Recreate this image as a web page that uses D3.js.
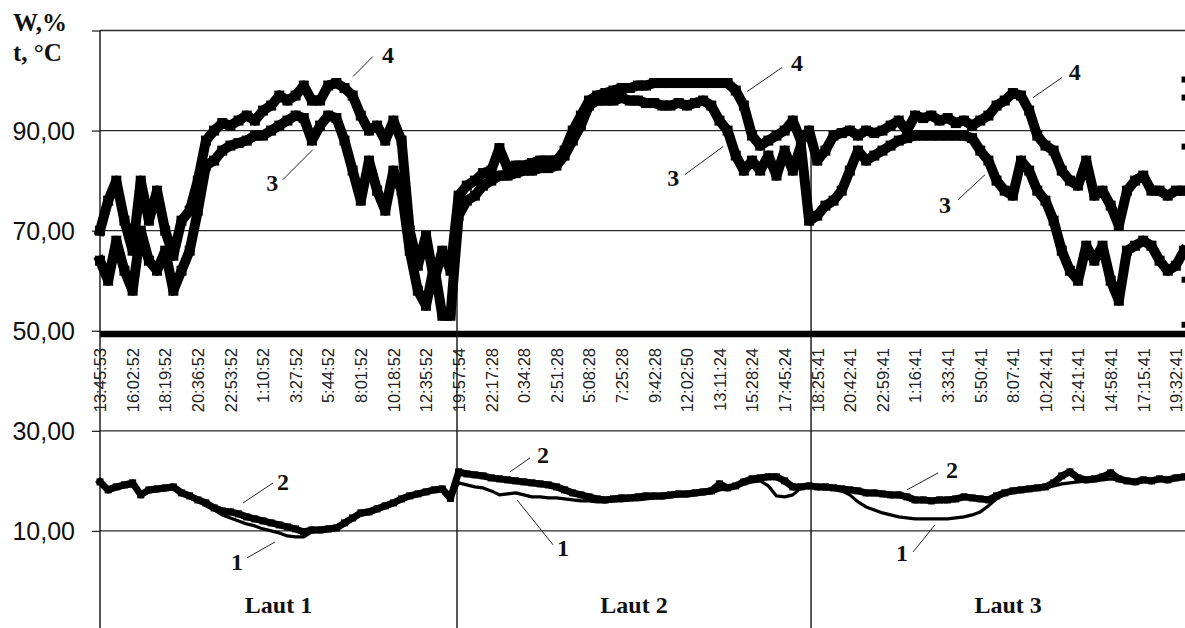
<!DOCTYPE html>
<html>
<head>
<meta charset="utf-8">
<script src="https://cdn.jsdelivr.net/npm/d3@7"></script>
<style>
  body { margin: 0; background: #fff; }
  svg { display: block; }
</style>
</head>
<body>
<svg id="chart" width="1185" height="628"></svg>
<script>
// Category tick labels (sampling times), one per index step
const timeLabels = [
  "13:45:53","16:02:52","18:19:52","20:36:52","22:53:52","1:10:52","3:27:52","5:44:52","8:01:52","10:18:52","12:35:52",
  "19:57:54","22:17:28","0:34:28","2:51:28","5:08:28","7:25:28","9:42:28","12:02:50","13:11:24","15:28:24","17:45:24",
  "18:25:41","20:42:41","22:59:41","1:16:41","3:33:41","5:50:41","8:07:41","10:24:41","12:41:41","14:58:41","17:15:41","19:32:41"
];

// Value axis ticks
const yTicks = [110, 90, 70, 50, 30, 10];

// Sampling step of the series along the category index
const sampleStep = 0.25;

// Series 4: W, % (upper humidity)
const series4 = [
  70,76,80,72,66,80,72,78,70,65,72,74,80,88,90,91.5,91,92,93,92,94,95,97,96,97,99,96,96,99,99.5,98.5,97,93,90,91,88,92,88,70,63,69,60,66,62,
  77,79,80,81.5,82,86.5,82.5,83,83,83.5,84,84,84,86,90,93,96,97,97.5,98,98.5,98.5,99,99,99.5,99.5,99.5,99.5,99.5,99.5,99.5,99.5,99.5,99.5,98,95,89,87,88,89,90,92,88,90,
  84,86,89,89.5,90,89,90,89.5,90,91,92,90,93,92.5,93,92,92.5,91.5,92,91,92,93,95,96,97.5,97,94,89,87,86,82,80,79,84,77,78,75,71,78,80,81,78,78,77,78,78
];

// Series 3: W, % (lower humidity)
const series3 = [
  64,60,68,62,58,70,64,62,66,58,62,66,74,83,84,86,87,87.5,88,89,89,90,91,92,93,92.5,88,91,93,92.5,88,82,76,84,78,74,82,78,66,58,55,63,53,53,
  73,76,77,79,80,81,81,81.5,82,82,82.5,82.5,83,85,88,91,95,96,96,96,96.5,96,96,95.5,95.5,95,95,95.5,95,95.5,96,95,92,90,85,82,84,82,85,81,86,82,87,72,
  73,75,76,78,82,86,84,85,86,87,88,88.5,89,89,89,89,89,89,89,88.5,86,84,80,78,77,84,82,78,76,72,66,62,60,67,64,67,60,56,66,67,68,67,64,62,63,66
];

// Series 2: t, °C (upper temperature)
const series2 = [
  19.8,18.2,18.8,19.2,19.6,17.2,18.2,18.4,18.6,18.8,17.6,17.0,16.2,15.6,14.6,14.0,13.8,13.4,12.8,12.4,12.0,11.6,11.2,10.8,10.4,9.8,10.2,10.2,10.4,10.6,11.6,12.6,13.6,13.8,14.4,15.0,15.6,16.4,17.0,17.4,17.8,18.2,18.4,16.5,
  21.8,21.4,21.2,21.0,20.6,20.4,20.2,20.0,19.8,19.6,19.4,19.2,18.8,18.2,17.6,17.2,16.8,16.4,16.2,16.4,16.6,16.6,16.8,17.0,17.0,17.0,17.2,17.4,17.4,17.6,17.8,18.0,19.4,18.6,19.0,19.8,20.4,20.6,20.8,20.8,20.0,18.8,18.8,19.0,
  18.8,18.8,18.6,18.4,18.2,18.0,17.6,17.6,17.4,17.2,17.2,16.8,16.2,16.2,16.0,16.2,16.2,16.4,16.8,16.6,16.4,16.2,17.0,17.6,18.0,18.2,18.4,18.6,18.8,19.6,21.0,21.8,20.6,20.2,20.4,20.8,21.6,20.4,20.0,19.8,20.2,20.0,20.4,20.2,20.6,20.8
];

// Series 1: t, °C (lower temperature)
const series1 = [
  19.4,18.0,18.4,18.8,19.0,17.2,17.8,18.0,18.2,18.4,17.4,16.8,16.0,15.0,14.2,13.2,12.6,12.0,11.4,11.0,10.4,10.0,9.6,9.0,8.8,8.8,9.8,10.0,10.2,10.4,11.4,12.4,13.2,13.6,14.2,14.8,15.4,16.0,16.8,17.2,17.6,18.0,18.0,16.2,
  19.6,19.2,18.8,18.6,18.0,17.2,17.4,17.6,17.2,16.8,16.8,16.6,16.6,16.4,16.2,16.0,16.0,15.8,15.8,16.0,16.0,16.2,16.2,16.4,16.6,16.6,16.8,17.0,17.0,17.2,17.4,17.6,18.2,18.4,18.8,19.4,19.8,20.0,19.0,17.0,16.8,17.2,18.6,18.8,
  18.6,18.4,18.4,18.0,17.2,15.8,14.8,14.2,13.6,13.2,12.8,12.6,12.4,12.4,12.4,12.4,12.4,12.6,12.8,13.2,13.8,15.0,16.4,17.4,17.8,18.0,18.2,18.4,18.6,19.0,19.4,19.6,19.8,20.0,20.0,20.2,20.4,20.2,20.0,19.8,20.0,20.0,20.2,20.2,20.4,20.6
];

// Stray points at the right edge of the plot
const edgePointIndex = 33.25;
const edgePoints = [100.2, 96.6, 86.8, 60.2, 51.2];

// Groups of the category axis (run names and index ranges)
const groupNames = ["Laut 1", "Laut 2", "Laut 3"];
const groupStarts = [0, 10.95, 21.81];
const groupEnds = [10.95, 21.81, 33.9];

// Dividers between the runs: index and the value where each starts
const dividerIndex = [10.95, 21.81];
const dividerTop = [77, 87];

// Curve numbers with their leader lines (index / value coordinates)
const curveNotes = [
  { text: "4", tx: 8.83,  tv: 105.2, x1: 7.76,  v1: 100.8, x2: 8.37,  v2: 104.8 },
  { text: "3", tx: 5.28,  tv: 79.6,  x1: 5.61,  v1: 80.2,  x2: 6.53,  v2: 86.2 },
  { text: "2", tx: 5.61,  tv: 19.8,  x1: 4.39,  v1: 15.6,  x2: 5.31,  v2: 19.6 },
  { text: "1", tx: 4.20,  tv: 3.8,   x1: 4.51,  v1: 4.6,   x2: 5.37,  v2: 7.8 },
  { text: "4", tx: 21.38, tv: 103.6, x1: 19.85, v1: 97.8,  x2: 20.92, v2: 102.6 },
  { text: "3", tx: 17.58, tv: 80.6,  x1: 17.94, v1: 81.2,  x2: 19.11, v2: 86.8 },
  { text: "2", tx: 13.59, tv: 25.2,  x1: 12.58, v1: 21.8,  x2: 13.19, v2: 24.6 },
  { text: "1", tx: 14.20, tv: 6.6,   x1: 12.79, v1: 16.2,  x2: 13.90, v2: 7.2 },
  { text: "4", tx: 29.90, tv: 101.8, x1: 28.62, v1: 96.6,  x2: 29.51, v2: 100.6 },
  { text: "3", tx: 25.92, tv: 75.2,  x1: 26.32, v1: 76.2,  x2: 27.15, v2: 81.2 },
  { text: "2", tx: 26.13, tv: 22.2,  x1: 24.75, v1: 18.2,  x2: 25.71, v2: 21.6 },
  { text: "1", tx: 24.60, tv: 5.6,   x1: 24.94, v1: 5.8,   x2: 25.61, v2: 11.2 }
];

const W = 1185, H = 628;
const svg = d3.select("#chart");
const sans = "'Liberation Sans', Arial, sans-serif";
const serif = "'Liberation Serif', 'Times New Roman', serif";

const x = d3.scaleLinear().domain([0, 33.28]).range([100, 1185]);
const y = d3.scaleLinear().domain([-9.4, 110]).range([628, 30.5]);

// Horizontal grid lines (50 is drawn as a heavy band below)
svg.append("g")
  .selectAll("line")
  .data(yTicks.filter(v => v !== 50))
  .join("line")
  .attr("x1", x(0)).attr("x2", W)
  .attr("y1", d => y(d)).attr("y2", d => y(d))
  .attr("stroke", "#2a2a2a").attr("stroke-width", 1.3);

// Heavy band at 50
svg.append("rect")
  .attr("x", x(0)).attr("width", W - x(0))
  .attr("y", y(50)).attr("height", 6.5)
  .attr("fill", "#000");

// Value axis
const yAxis = d3.axisLeft(y)
  .tickValues(yTicks)
  .tickSize(8)
  .tickPadding(17)
  .tickFormat(d => d === 110 ? "" : d.toFixed(2).replace(".", ","));
const gy = svg.append("g").attr("transform", `translate(${x(0)},0)`).call(yAxis);
gy.select(".domain").remove();
gy.selectAll(".tick line").attr("stroke", "#2a2a2a").attr("stroke-width", 1.3);
gy.selectAll(".tick text")
  .attr("font-family", sans).attr("font-size", 25).attr("fill", "#111")
  .attr("dy", "0.36em");
svg.append("line")
  .attr("x1", x(0)).attr("x2", x(0))
  .attr("y1", y(110)).attr("y2", H)
  .attr("stroke", "#111").attr("stroke-width", 1.4);

// Axis title
const title = svg.append("text")
  .attr("font-family", serif).attr("font-weight", "bold")
  .attr("font-size", 25).attr("fill", "#111");
title.append("tspan").attr("x", 13).attr("y", 31).text("W,%");
title.append("tspan").attr("x", 13).attr("y", 61).text("t, °C");

// Time labels, rotated, just under the band
const xAxis = d3.axisBottom(x)
  .tickValues(d3.range(timeLabels.length))
  .tickSize(0)
  .tickFormat(i => timeLabels[i]);
const gx = svg.append("g").attr("transform", "translate(0,348)").call(xAxis);
gx.select(".domain").remove();
gx.selectAll(".tick text")
  .attr("x", 0).attr("y", 0).attr("dy", "0.35em")
  .attr("transform", "rotate(-90)")
  .style("text-anchor", "end")
  .attr("font-family", sans).attr("font-size", 16.5).attr("fill", "#222");

// Dividers between runs
svg.append("g")
  .selectAll("line")
  .data(dividerIndex)
  .join("line")
  .attr("x1", d => x(d)).attr("x2", d => x(d))
  .attr("y1", (d, i) => y(dividerTop[i])).attr("y2", H)
  .attr("stroke", "#111").attr("stroke-width", 1.4);

// Run names
svg.append("g")
  .selectAll("text")
  .data(groupNames)
  .join("text")
  .attr("x", (d, i) => x((groupStarts[i] + groupEnds[i]) / 2))
  .attr("y", 613)
  .attr("text-anchor", "middle")
  .attr("font-family", serif).attr("font-weight", "bold")
  .attr("font-size", 24).attr("fill", "#111")
  .text(d => d);

// Series drawing
const toPoints = arr => arr.map((v, i) => ({ i: i * sampleStep, v }));
const line = d3.line().x(d => x(d.i)).y(d => y(d.v)).curve(d3.curveLinear);

function drawSeries(arr, width, marker) {
  const pts = toPoints(arr);
  const g = svg.append("g");
  g.append("path")
    .datum(pts)
    .attr("d", line)
    .attr("fill", "none")
    .attr("stroke", "#000")
    .attr("stroke-width", width)
    .attr("stroke-linejoin", "round")
    .attr("stroke-linecap", "square");
  if (marker > 0) {
    g.selectAll("rect")
      .data(pts)
      .join("rect")
      .attr("x", d => x(d.i) - marker / 2)
      .attr("y", d => y(d.v) - marker / 2)
      .attr("width", marker).attr("height", marker)
      .attr("fill", "#000");
  }
}

drawSeries(series1, 3.2, 0);
drawSeries(series2, 7, 7);
drawSeries(series3, 10, 10);
drawSeries(series4, 10, 10);

// Stray points at the right edge
svg.append("g")
  .selectAll("rect")
  .data(edgePoints)
  .join("rect")
  .attr("x", x(edgePointIndex) - 2.5)
  .attr("y", d => y(d) - 3)
  .attr("width", 5).attr("height", 6)
  .attr("fill", "#000");

// Curve numbers and leaders
const notes = svg.append("g");
notes.selectAll("line")
  .data(curveNotes)
  .join("line")
  .attr("x1", d => x(d.x1)).attr("y1", d => y(d.v1))
  .attr("x2", d => x(d.x2)).attr("y2", d => y(d.v2))
  .attr("stroke", "#222").attr("stroke-width", 1);
notes.selectAll("text")
  .data(curveNotes)
  .join("text")
  .attr("x", d => x(d.tx)).attr("y", d => y(d.tv))
  .attr("dy", "0.35em")
  .attr("text-anchor", "middle")
  .attr("font-family", serif).attr("font-weight", "bold")
  .attr("font-size", 24).attr("fill", "#111")
  .text(d => d.text);
</script>
</body>
</html>
